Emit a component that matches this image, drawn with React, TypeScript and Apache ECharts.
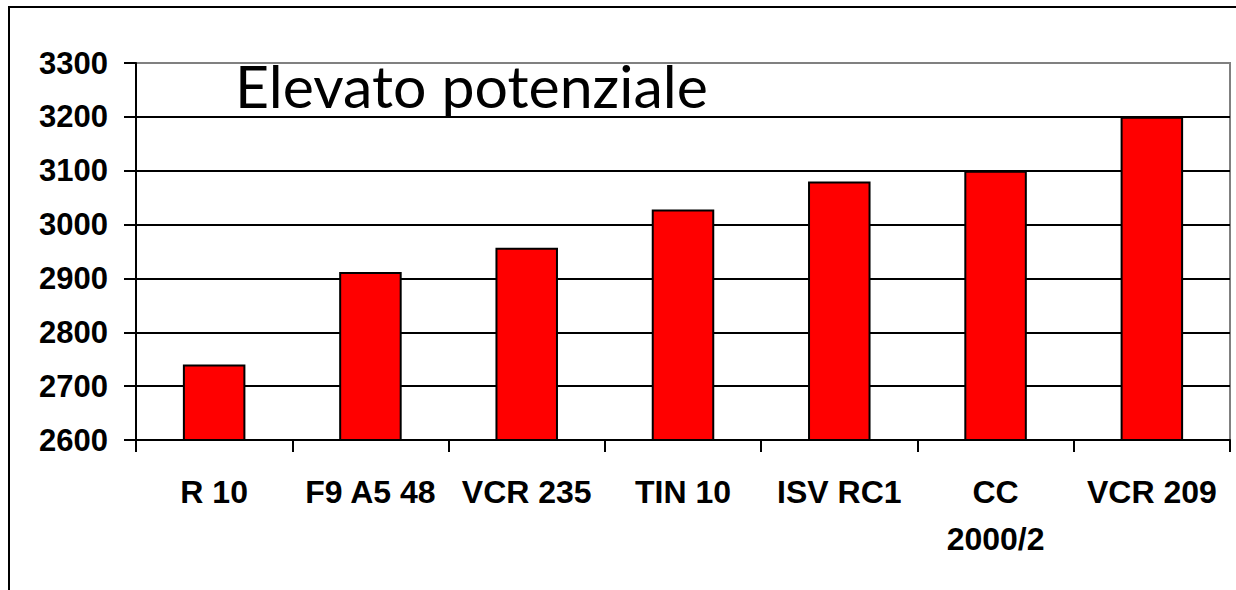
import React, { useEffect, useRef } from "react";
import * as echarts from "echarts";

const categories = ["R 10", "F9 A5 48", "VCR 235", "TIN 10", "ISV RC1", "CC\n2000/2", "VCR 209"];
const values = [2740, 2912, 2957, 3028, 3080, 3100, 3200];
const yMin = 2600;
const yMax = 3300;
const yStep = 100;
const titleText = "Elevato potenziale";

export default function App() {
  const ref = useRef<HTMLDivElement>(null);
  useEffect(() => {
    document.body.style.margin = "0";
    const chart = echarts.init(ref.current!, null, { renderer: "svg" });
    const tickCount = (yMax - yMin) / yStep + 1;
    const splitColors = Array.from({ length: tickCount }, (_, i) => (i === tickCount - 1 ? "#808080" : "#000000"));
    chart.setOption({
      animation: false,
      backgroundColor: "#ffffff",
      grid: {
        left: 136,
        right: 6,
        top: 63,
        bottom: 150,
        show: true,
        borderColor: "#808080",
        borderWidth: 2,
        backgroundColor: "transparent",
      },
      xAxis: {
        type: "category",
        data: categories,
        axisLine: { show: true, lineStyle: { color: "#000", width: 2 } },
        axisTick: { show: true, length: 12, lineStyle: { color: "#000", width: 2 }, alignWithLabel: false },
        axisLabel: {
          color: "#000",
          fontFamily: "'Liberation Sans', Arial, sans-serif",
          fontWeight: "bold",
          fontSize: 32,
          lineHeight: 47,
          margin: 28,
          interval: 0,
        },
      },
      yAxis: {
        type: "value",
        min: yMin,
        max: yMax,
        interval: yStep,
        axisLine: { show: true, lineStyle: { color: "#000", width: 2 } },
        axisTick: { show: true, length: 12, lineStyle: { color: "#000", width: 2 } },
        splitLine: { show: true, lineStyle: { color: splitColors, width: 2 } },
        axisLabel: {
          color: "#000",
          fontFamily: "'Liberation Sans', Arial, sans-serif",
          fontWeight: "bold",
          fontSize: 31,
          margin: 28,
          formatter: (v: number) => String(v),
        },
      },
      series: [
        {
          type: "bar",
          data: values,
          barCategoryGap: "60%",
          itemStyle: { color: "#ff0000", borderColor: "#000", borderWidth: 2 },
        },
      ],
      graphic: [
        {
          type: "rect",
          shape: { x: 9, y: 7, width: 1400, height: 800 },
          style: { fill: "none", stroke: "#000", lineWidth: 2 },
          silent: true,
        },
        {
          type: "text",
          left: 235,
          top: 56,
          style: {
            text: titleText,
            font: "normal 59px Lato, 'Open Sans', sans-serif",
            fill: "#000",
          },
        },
      ],
    });
    return () => chart.dispose();
  }, []);
  return <div ref={ref} style={{ width: 1236, height: 590 }} />;
}
